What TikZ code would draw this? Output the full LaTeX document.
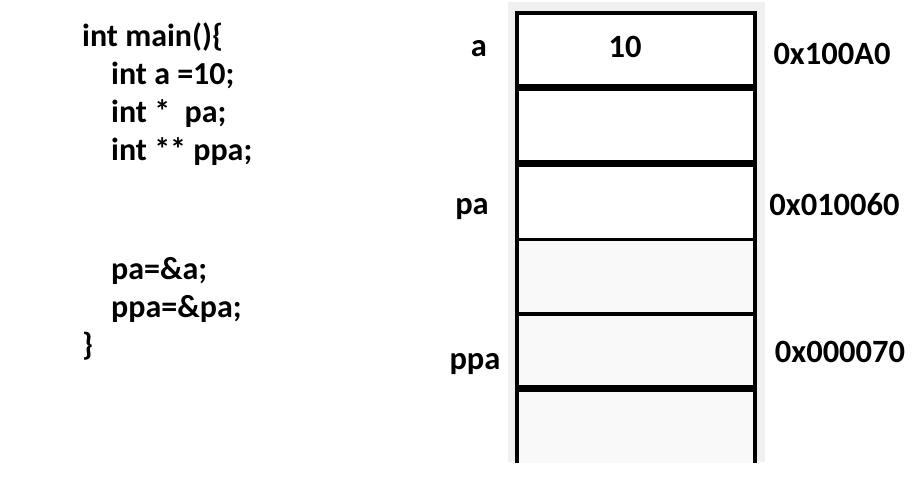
\documentclass[tikz,border=0pt]{standalone}
\usepackage{fontspec}
\setmainfont{Carlito}
\usetikzlibrary{positioning}
\tikzset{
  code/.style={
    anchor=base west, inner sep=0pt, font=\fontsize{32}{34}\selectfont\bfseries
  },
  cell/.style={
    rectangle, minimum width=238pt, minimum height=75pt, outer sep=0pt,
    draw=black, line width=3.5pt
  },
  lbl/.style={
    anchor=base, inner sep=0pt, font=\fontsize{32.5}{34}\selectfont\bfseries
  },
  sep/.style={
    line width=7pt, black
  }
}
\begin{document}
\begin{tikzpicture}[x=1pt, y=-1pt]
  \useasboundingbox (0,0) rectangle (922,478);

  % Code
  \node[code] (l1) at (82,47) {int main()\{};
  \node[code] (l2) at (111,85) {int a =10;};
  \node[code] (l3) at (111,123) {int *\ \ pa;};
  \node[code] (l4) at (111,161) {int ** ppa;};
  \node[code] (l5) at (111,280) {pa=\&a;};
  \node[code] (l6) at (111,318) {ppa=\&pa;};
  \node[code] (l7) at (82,356) {\}};

  % Memory background
  \fill[gray!12] (508,2) rectangle (765,462);

  % Memory cells
  \node[cell, fill=white] (m1) at (636,50.5) {};
  \node[cell, fill=white] (m2) at (636,126.5) {};
  \node[cell, fill=white] (m3) at (636,202.5) {};
  \node[cell, fill=gray!5] (m4) at (636,277) {};
  \node[cell, fill=gray!5] (m5) at (636,351.5) {};
  \node[cell, draw=none, fill=gray!5] (m6) at (636,425.5) {};
  \draw[line width=3.5pt] (m6.south west) -- (m6.north west) -- (m6.north east) -- (m6.south east);

  % Thick separators
  \draw[sep] (m1.south west) -- (m1.south east);
  \draw[sep] (m2.south west) -- (m2.south east);
  \draw[sep] (m5.south west) -- (m5.south east);

  % Value
  \node[lbl] (v1) at (625,58) {10};

  % Variable names
  \node[lbl] (na) at (479,57) {a};
  \node[lbl] (npa) at (472,215) {pa};
  \node[lbl] (nppa) at (475,370) {ppa};

  % Addresses
  \node[lbl] (ad1) at (832,65) {0x100A0};
  \node[lbl] (ad2) at (834.5,216) {0x010060};
  \node[lbl] (ad3) at (840,363) {0x000070};
\end{tikzpicture}
\end{document}
